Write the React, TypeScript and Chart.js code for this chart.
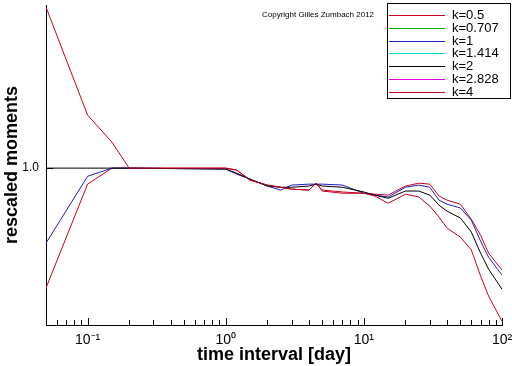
import React, { useEffect, useRef } from 'react';
import { Chart, registerables } from 'chart.js';

Chart.register(...registerables);

// time interval [day]
const timeInterval = [0.05, 0.1, 0.15, 0.2, 1, 1.2, 1.5, 2, 2.5, 3, 4, 4.5, 5, 7, 10, 12, 15, 20, 25, 30, 35, 40, 50, 60, 70, 80, 100];

const seriesLabels = ['k=0.5', 'k=0.707', 'k=1', 'k=1.414', 'k=2', 'k=2.828', 'k=4'];
const seriesColors = ['#c8001e', '#00b400', '#1e1ec8', '#00e0e0', '#000000', '#e000e0', '#c8001e'];

const k05 = [0.618, 0.949, 1.0, 1.0, 1.0, 0.994, 0.962, 0.946, 0.939, 0.933, 0.930, 0.952, 0.930, 0.924, 0.920, 0.917, 0.914, 0.943, 0.952, 0.949, 0.911, 0.898, 0.885, 0.837, 0.786, 0.729, 0.675];
const k0707: number[] = [];
const k1 = [0.761, 0.974, 1.0, 1.0, 0.997, 0.981, 0.965, 0.943, 0.930, 0.946, 0.949, 0.949, 0.949, 0.946, 0.920, 0.914, 0.908, 0.939, 0.946, 0.939, 0.898, 0.885, 0.873, 0.834, 0.767, 0.716, 0.659];
const k1414: number[] = [];
const k2 = [1.0, 1.0, 1.0, 1.0, 0.997, 0.984, 0.965, 0.943, 0.939, 0.939, 0.943, 0.949, 0.943, 0.939, 0.924, 0.914, 0.904, 0.927, 0.927, 0.914, 0.882, 0.863, 0.841, 0.796, 0.729, 0.678, 0.614];
const k2828: number[] = [];
const k4 = [1.513, 1.169, 1.083, 1.0, 1.0, 0.994, 0.962, 0.946, 0.939, 0.933, 0.930, 0.952, 0.927, 0.920, 0.920, 0.911, 0.888, 0.917, 0.908, 0.879, 0.844, 0.809, 0.780, 0.739, 0.656, 0.592, 0.512];

const seriesValues = [k05, k0707, k1, k1414, k2, k2828, k4];

const xTickValues = [0.1, 1, 10, 100];
const xTickLabels = ['10\u207B\u00B9', '10\u2070', '10\u00B9', '10\u00B2'];
const yTickValues = [1.0];
const yTickLabels = ['1.0'];

const copyrightText = 'Copyright Gilles Zumbach 2012';

const FONT = '"Liberation Sans", Arial, sans-serif';

const decorPlugin = {
  id: 'decor',
  afterDraw(chart: any) {
    const ctx = chart.ctx as CanvasRenderingContext2D;
    const xs = chart.scales.x;
    const ys = chart.scales.y;
    const ca = chart.chartArea;
    ctx.save();
    ctx.strokeStyle = '#000';
    ctx.lineWidth = 1;
    // x axis ticks (inward)
    for (let e = -2; e <= 2; e++) {
      for (let m = 1; m <= 9; m++) {
        const v = m * Math.pow(10, e);
        if (v < xs.min * 0.999 || v > xs.max * 1.001) continue;
        const px = Math.round(xs.getPixelForValue(v)) + 0.5;
        const len = m === 1 ? 7 : 5;
        ctx.beginPath();
        ctx.moveTo(px, ca.bottom);
        ctx.lineTo(px, ca.bottom - len);
        ctx.stroke();
      }
    }
    // y axis tick (inward)
    for (const v of yTickValues) {
      const py = Math.round(ys.getPixelForValue(v)) + 0.5;
      ctx.beginPath();
      ctx.moveTo(ca.left, py);
      ctx.lineTo(ca.left + 7, py);
      ctx.stroke();
    }
    // copyright
    ctx.fillStyle = '#000';
    ctx.font = '8px ' + FONT;
    ctx.textAlign = 'left';
    ctx.textBaseline = 'middle';
    ctx.fillText(copyrightText, 262, 15);
    // legend
    ctx.fillStyle = '#fff';
    ctx.fillRect(387.5, 3.5, 123, 95);
    ctx.strokeStyle = '#000';
    ctx.lineWidth = 1;
    ctx.strokeRect(387.5, 3.5, 123, 95);
    ctx.font = '13px ' + FONT;
    seriesLabels.forEach((label, i) => {
      const y = Math.round(15 + i * 12.8) + 0.5;
      ctx.strokeStyle = seriesColors[i];
      ctx.lineWidth = 1;
      ctx.beginPath();
      ctx.moveTo(389, y);
      ctx.lineTo(445, y);
      ctx.stroke();
      ctx.fillStyle = '#000';
      ctx.fillText(label, 452, y);
    });
    ctx.restore();
  },
};

export default function App() {
  const ref = useRef<HTMLCanvasElement | null>(null);
  useEffect(() => {
    if (!ref.current) return;
    const datasets = seriesLabels.map((label, i) => ({
      label,
      data: seriesValues[i].map((y, j) => ({ x: timeInterval[j], y })),
      borderColor: seriesColors[i],
      backgroundColor: seriesColors[i],
      borderWidth: 1,
      pointRadius: 0,
      tension: 0,
      fill: false,
      order: seriesLabels.length - 1 - i,
    }));
    const chart = new Chart(ref.current, {
      type: 'line',
      data: { datasets },
      options: {
        responsive: false,
        animation: false,
        layout: { padding: { top: 5, right: 10, left: 0, bottom: 0 } },
        plugins: { legend: { display: false }, tooltip: { enabled: false } },
        scales: {
          x: {
            type: 'logarithmic',
            min: 0.05,
            max: 100,
            grid: { display: false, drawTicks: false },
            border: { display: true, color: '#000', width: 1 },
            afterBuildTicks: (s: any) => {
              s.ticks = xTickValues.map((v) => ({ value: v }));
            },
            afterFit: (s: any) => {
              s.height = 41;
              s.paddingLeft = 0;
              s.paddingRight = 0;
            },
            ticks: {
              autoSkip: false,
              maxRotation: 0,
              padding: 7,
              color: '#000',
              font: { family: FONT, size: 14 },
              callback: (v: any) => {
                const idx = xTickValues.findIndex((t) => Math.abs(t - Number(v)) < 1e-9);
                return idx >= 0 ? xTickLabels[idx] : '';
              },
            },
            title: {
              display: true,
              text: 'time interval [day]',
              color: '#000',
              font: { family: FONT, size: 18, weight: 'bold' },
              padding: { top: 0, bottom: 0 },
            },
          },
          y: {
            type: 'linear',
            min: 0.5,
            max: 1.52,
            grid: { display: false, drawTicks: false },
            border: { display: true, color: '#000', width: 1 },
            afterBuildTicks: (s: any) => {
              s.ticks = yTickValues.map((v) => ({ value: v }));
            },
            afterFit: (s: any) => {
              s.width = 46;
              s.paddingTop = 0;
              s.paddingBottom = 0;
            },
            ticks: {
              padding: 7,
              color: '#000',
              font: { family: FONT, size: 12 },
              callback: (v: any) => {
                const idx = yTickValues.findIndex((t) => Math.abs(t - Number(v)) < 1e-9);
                return idx >= 0 ? yTickLabels[idx] : '';
              },
            },
            title: {
              display: true,
              text: 'rescaled moments',
              color: '#000',
              font: { family: FONT, size: 18, weight: 'bold' },
              padding: { top: 1, bottom: 0 },
            },
          },
        },
      },
      plugins: [decorPlugin],
    });
    return () => chart.destroy();
  }, []);
  return (
    <div style={{ position: 'fixed', left: 0, top: 0, width: 512, height: 366, background: '#fff' }}>
      <canvas ref={ref} width={512} height={366} style={{ display: 'block' }} />
    </div>
  );
}
